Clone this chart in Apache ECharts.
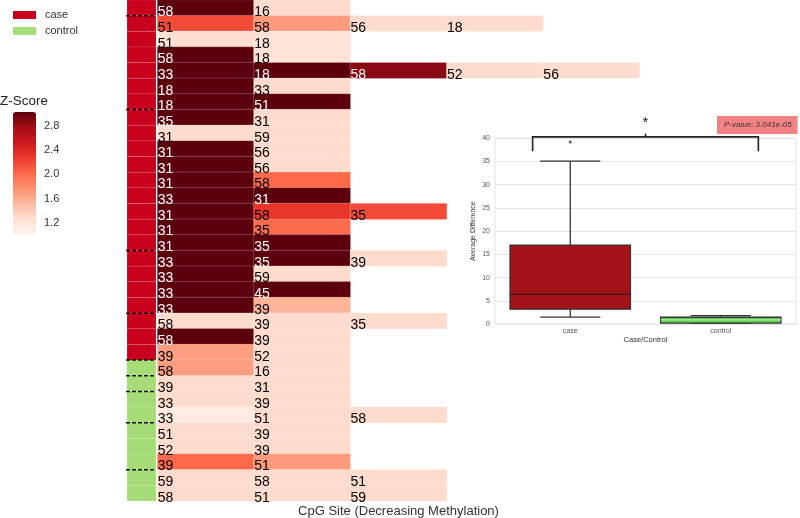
<!DOCTYPE html>
<html><head><meta charset="utf-8">
<script src="https://cdn.jsdelivr.net/npm/echarts@6/dist/echarts.min.js"></script>
<style>html,body{margin:0;padding:0;background:#fff}#c{width:800px;height:518px}</style>
</head><body><div id="c"></div>
<script>
// ---------------- data ----------------
const rowGroups = [
 'case','case','case','case','case','case','case','case','case','case','case','case',
 'case','case','case','case','case','case','case','case','case','case','case',
 'control','control','control','control','control','control','control','control','control'
];
const rowSites = [
 [58,16],[51,58,56,18],[51,18],[58,18],[33,18,58,52,56],[18,33],[18,51],[35,31],
 [31,59],[31,56],[31,56],[31,58],[33,31],[31,58,35],[31,35],[31,35],[33,35,39],
 [33,59],[33,45],[33,39],[58,39,35],[58,39],[39,52],
 [58,16],[39,31],[33,39],[33,51,58],[51,39],[52,39],[39,51],[59,58,51],[58,51,59]
];
const rowZ = [
 [3.03,1.28],[2.18,1.71,1.28,1.28],[1.26,1.22],[3.03,1.22],[3.03,3.03,2.87,1.28,1.28],
 [3.03,1.28],[3.03,3.03],[3.03,1.28],[1.28,1.28],[3.03,1.28],[3.03,1.28],[3.03,2.02],
 [3.03,3.03],[3.03,2.32,2.18],[3.03,2.0],[3.03,3.03],[3.03,3.03,1.28],[3.03,1.28],
 [3.03,3.03],[3.03,1.55],[1.28,1.28,1.28],[3.03,1.28],[1.69,1.28],
 [1.69,1.28],[1.28,1.28],[1.28,1.28],[1.12,1.28,1.28],[1.28,1.28],[1.28,1.28],
 [2.02,1.71],[1.28,1.28,1.28],[1.28,1.28,1.28]
];
const columnSlots = ['1','2','3','4','5'];
const dividerAfterRow = [1,7,16,20,23,24,25,27,30];
const zMin = 1.0, zMax = 3.03;
const zTickLabels = [1.2,1.6,2.0,2.4,2.8];
const boxCategories = ['case','control'];
// [min, Q1, median, Q3, max]
const boxStats = [[1.5,3.2,6.4,17.0,35.1],[0.2,0.2,0.9,1.45,1.8]];
const boxOutliers = [[0,39.2]];
const sigBracket = [[0,1,40.3,37.2,41.0]]; // from cat, to cat, level, drop, tick
const pValueText = 'P-value: 3.041e-05';

// ---------------- build ----------------
const rowIdx = rowSites.map((_, i) => i);
const heatData = [];
rowSites.forEach((sites, r) => {
  sites.forEach((s, c) => {
    const z = rowZ[r][c];
    heatData.push({value: [c, r, z], site: s,
      label: {color: z > 2.5 ? '#ffffff' : '#000000'}});
  });
});
const groupColors = {case: '#c8001e', control: '#a6dc78'};
function sideSeries(name) {
  return {
    name, type: 'custom', xAxisIndex: 1, yAxisIndex: 1,
    itemStyle: {color: groupColors[name]},
    data: rowGroups.map((g, i) => g === name ? [0, i] : null).filter(d => d),
    renderItem(params, api) {
      const c = api.coord([api.value(0), api.value(1)]);
      const s = api.size([1, 1]);
      return {type: 'rect',
        shape: {x: c[0] - s[0] / 2, y: c[1] - s[1] / 2, width: s[0], height: s[1]},
        style: {fill: api.visual('color'), stroke: 'rgba(255,255,255,0.18)', lineWidth: 0.6}};
    }
  };
}
const boxColors = ['#a31219', '#62cc50'];
const medianColors = ['#3a1616', '#a8f09a'];

const chart = echarts.init(document.getElementById('c'));
chart.setOption({
  animation: false,
  textStyle: {fontFamily: 'Liberation Sans, Arial, sans-serif'},
  title: [
    {text: 'Z-Score', left: 0, top: 94, padding: 0,
     textStyle: {fontSize: 13.5, fontWeight: 'normal', color: '#222'}},
    {text: pValueText, left: 717, top: 116, padding: [4, 6, 4, 7],
     backgroundColor: '#f38383',
     textStyle: {fontSize: 8, fontStyle: 'italic', fontWeight: 'normal', color: '#333', lineHeight: 10}}
  ],
  legend: {
    data: ['case', 'control'], orient: 'vertical', left: 13, top: 9.5,
    itemWidth: 23, itemHeight: 8, itemGap: 5, icon: 'rect', padding: 0,
    textStyle: {fontSize: 11, color: '#333', padding: [0, 0, 0, 4]}
  },
  grid: [
    {left: 157.5, top: 0, width: 482, height: 501, outerBoundsMode: 'none'},
    {left: 127, top: 0, width: 29, height: 501, outerBoundsMode: 'none'},
    {left: 13, top: 112, width: 23, height: 123, outerBoundsMode: 'none'},
    {left: 495, top: 138.3, width: 301, height: 185.7, show: true, borderColor: '#e2e2e2', borderWidth: 1, outerBoundsMode: 'none'}
  ],
  xAxis: [
    {type: 'category', gridIndex: 0, data: columnSlots, axisLine: {show: false}, axisTick: {show: false},
     axisLabel: {show: false}, name: 'CpG Site (Decreasing Methylation)', nameLocation: 'middle', nameGap: 4,
     nameTextStyle: {fontSize: 13, color: '#333'}},
    {type: 'category', gridIndex: 1, data: ['group'], show: false},
    {type: 'value', gridIndex: 2, show: false},
    {type: 'category', gridIndex: 3, data: boxCategories, axisLine: {show: false}, axisTick: {show: false},
     axisLabel: {fontSize: 7, color: '#555', margin: 4},
     name: 'Case/Control', nameLocation: 'middle', nameGap: 10, nameTextStyle: {fontSize: 7.5, color: '#333'}}
  ],
  yAxis: [
    {type: 'category', gridIndex: 0, data: rowIdx, inverse: true, show: false},
    {type: 'category', gridIndex: 1, data: rowIdx, inverse: true, show: false},
    {type: 'value', gridIndex: 2, min: zMin, max: zMax, interval: 0.2, position: 'right',
     axisLine: {show: false}, axisTick: {show: false}, splitLine: {show: false},
     axisLabel: {fontSize: 11, color: '#333', margin: 8,
       formatter: v => zTickLabels.some(t => Math.abs(t - v) < 1e-6) ? v.toFixed(1) : ''}},
    {type: 'value', gridIndex: 3, min: 0, max: 40, interval: 5,
     axisLine: {show: false}, axisTick: {show: false},
     splitLine: {lineStyle: {color: '#e4e4e4', width: 1}},
     axisLabel: {fontSize: 7, color: '#555', margin: 5},
     name: 'Average Difference', nameLocation: 'middle', nameGap: 18, nameRotate: 90,
     nameTextStyle: {fontSize: 7, color: '#333'}}
  ],
  visualMap: [{
    type: 'continuous', seriesIndex: 0, min: zMin, max: zMax, calculable: false,
    left: 13, top: 112, itemWidth: 23, itemHeight: 123, padding: 0, text: null, showLabel: false,
    hoverLink: false,
    inRange: {color: ['#fff5f0','#fee0d2','#fcbba1','#fc9272','#fb6a4a','#ef3b2c','#cb181d','#a50f15','#5c000d']}
  }],
  series: [
    {type: 'heatmap', xAxisIndex: 0, yAxisIndex: 0, data: heatData,
     itemStyle: {borderColor: 'rgba(255,255,255,0.2)', borderWidth: 1},
     emphasis: {disabled: true},
     label: {show: true, position: 'insideBottomLeft', distance: 1, offset: [0, 4],
       fontSize: 14, formatter: p => String(p.data.site)}},
    sideSeries('case'),
    sideSeries('control'),
    {type: 'custom', xAxisIndex: 1, yAxisIndex: 1, silent: true,
     data: dividerAfterRow.map(r => [0, r]),
     renderItem(params, api) {
       const r = api.value(1) - 1;
       const c = api.coord([0, r]);
       const s = api.size([1, 1]);
       const y = c[1] + s[1] / 2;
       return {type: 'line', shape: {x1: c[0] - s[0] / 2 - 1, y1: y, x2: c[0] + s[0] / 2, y2: y},
         style: {stroke: '#111', lineWidth: 1.5, lineDash: [4, 2]}};
     }},
    {type: 'custom', xAxisIndex: 3, yAxisIndex: 3, silent: true,
     data: boxStats.map((s, i) => [i].concat(s)),
     renderItem(params, api) {
       const i = api.value(0);
       const band = api.size([1, 0])[0];
       const half = band * 0.4, cap = band * 0.2;
       const pMin = api.coord([i, api.value(1)]);
       const pQ1 = api.coord([i, api.value(2)]);
       const pMed = api.coord([i, api.value(3)]);
       const pQ3 = api.coord([i, api.value(4)]);
       const pMax = api.coord([i, api.value(5)]);
       const x = pQ1[0];
       const edge = {stroke: '#333', lineWidth: 1.3};
       return {type: 'group', children: [
         {type: 'line', shape: {x1: x, y1: pQ1[1], x2: x, y2: pMin[1]}, style: edge},
         {type: 'line', shape: {x1: x, y1: pQ3[1], x2: x, y2: pMax[1]}, style: edge},
         {type: 'line', shape: {x1: x - cap, y1: pMin[1], x2: x + cap, y2: pMin[1]}, style: edge},
         {type: 'line', shape: {x1: x - cap, y1: pMax[1], x2: x + cap, y2: pMax[1]}, style: edge},
         {type: 'rect', shape: {x: x - half, y: pQ3[1], width: half * 2, height: Math.max(pQ1[1] - pQ3[1], 1)},
          style: {fill: boxColors[i], stroke: '#333', lineWidth: 1.3}},
         {type: 'line', shape: {x1: x - half, y1: pMed[1], x2: x + half, y2: pMed[1]},
          style: {stroke: medianColors[i], lineWidth: 1.3}}
       ]};
     }},
    {type: 'scatter', xAxisIndex: 3, yAxisIndex: 3, data: boxOutliers, symbolSize: 3,
     itemStyle: {color: '#333'}, silent: true},
    {type: 'custom', xAxisIndex: 3, yAxisIndex: 3, silent: true, data: sigBracket,
     renderItem(params, api) {
       const band = api.size([1, 0])[0];
       const a = api.coord([api.value(0), api.value(2)]);
       const b = api.coord([api.value(1), api.value(2)]);
       const x1 = a[0] - band * 0.25, x2 = b[0] + band * 0.25;
       const yDrop = api.coord([0, api.value(3)])[1];
       const yTick = api.coord([0, api.value(4)])[1];
       const xm = (x1 + x2) / 2;
       const st = {stroke: '#222', lineWidth: 1.6};
       return {type: 'group', children: [
         {type: 'polyline', shape: {points: [[x1, yDrop], [x1, a[1]], [x2, a[1]], [x2, yDrop]]}, style: Object.assign({fill: 'none'}, st)},
         {type: 'line', shape: {x1: xm, y1: a[1], x2: xm, y2: yTick}, style: st},
         {type: 'text', style: {text: '*', x: xm, y: yTick - 3, align: 'center', verticalAlign: 'bottom',
           fontSize: 15, fill: '#222', fontFamily: 'Liberation Sans, Arial, sans-serif'}}
       ]};
     }}
  ]
});
</script></body></html>
